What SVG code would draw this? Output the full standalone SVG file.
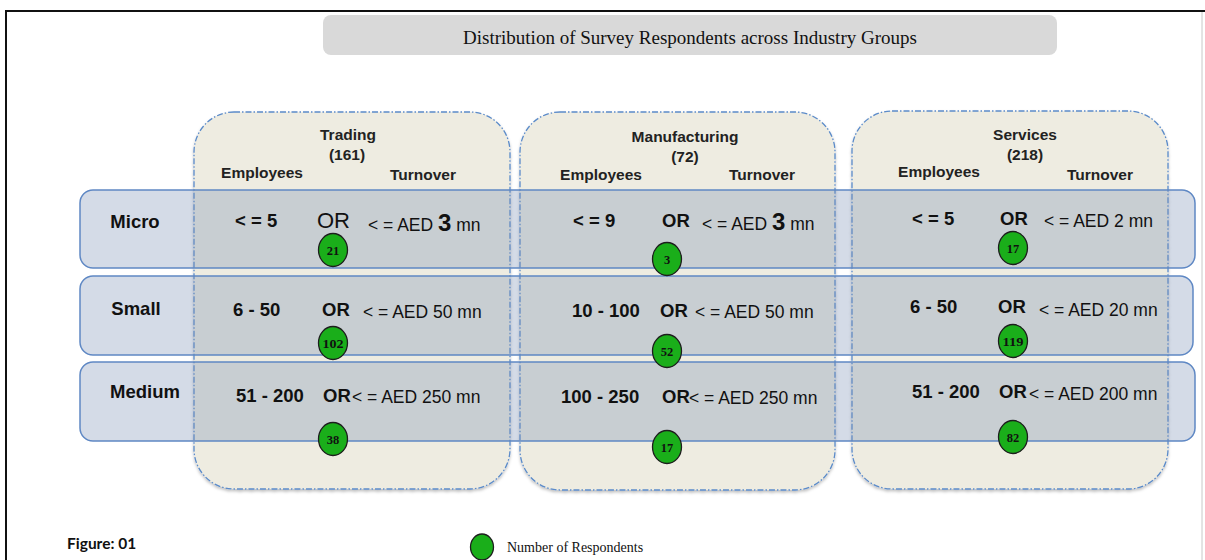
<svg xmlns="http://www.w3.org/2000/svg" width="1205" height="560" viewBox="0 0 1205 560">
  <defs>
    <filter id="soft" x="-5%" y="-5%" width="110%" height="115%">
      <feDropShadow dx="0" dy="2" stdDeviation="1.5" flood-color="#000" flood-opacity="0.25"/>
    </filter>
    <style>
      .col { fill: #eeece1; stroke: #5b8bc9; stroke-width: 1.3; stroke-dasharray: 6 2 1.5 2; }
      .row { fill: #7088b0; fill-opacity: 0.3; stroke: #5f88c4; stroke-width: 1.5; }
      .hdr { font-family: "Liberation Sans", Arial, sans-serif; font-weight: bold; font-size: 15.5px; fill: #222; text-anchor: middle; }
      .lbl { font-family: "Liberation Sans", Arial, sans-serif; font-weight: bold; font-size: 18.5px; fill: #111; }
      .val { font-family: "Liberation Sans", Arial, sans-serif; font-weight: bold; font-size: 18.5px; fill: #111; }
      .or  { font-family: "Liberation Sans", Arial, sans-serif; font-weight: bold; font-size: 18.5px; fill: #111; }
      .aed { font-family: "Liberation Sans", Arial, sans-serif; font-size: 17.5px; fill: #111; }
      .big { font-size: 24px; font-weight: bold; }
      .dot { fill: #1aae1a; stroke: #1e1e1e; stroke-width: 1.3; }
      .num { font-family: "Liberation Serif", "Times New Roman", serif; font-weight: bold; font-size: 12.5px; fill: #111; text-anchor: middle; }
    </style>
  </defs>

  <rect width="1205" height="560" fill="#ffffff"/>

  <!-- page frame -->
  <line x1="5" y1="11" x2="1205" y2="11" stroke="#111" stroke-width="2"/>
  <line x1="6" y1="10" x2="6" y2="560" stroke="#111" stroke-width="2"/>
  <line x1="1202" y1="12" x2="1202" y2="560" stroke="#c8c8c8" stroke-width="1"/>

  <!-- title bar -->
  <g id="title">
    <rect x="323" y="15" width="734" height="40" rx="8" fill="#d9d9d9"/>
    <text x="690" y="44" font-family="Liberation Serif, 'Times New Roman', serif" font-size="19" fill="#111" text-anchor="middle">Distribution of Survey Respondents across Industry Groups</text>
  </g>

  <!-- industry columns -->
  <g id="col-trading">
    <rect class="col" x="194" y="112" width="316" height="377" rx="40" filter="url(#soft)"/>
    <text class="hdr" x="348" y="140">Trading</text>
    <text class="hdr" x="347" y="160">(161)</text>
    <text class="hdr" x="262" y="178">Employees</text>
    <text class="hdr" x="423" y="180">Turnover</text>
  </g>
  <g id="col-manufacturing">
    <rect class="col" x="520" y="112" width="315" height="378" rx="40" filter="url(#soft)"/>
    <text class="hdr" x="685" y="142">Manufacturing</text>
    <text class="hdr" x="685" y="162">(72)</text>
    <text class="hdr" x="601" y="180">Employees</text>
    <text class="hdr" x="762" y="180">Turnover</text>
  </g>
  <g id="col-services">
    <rect class="col" x="852" y="111" width="316" height="378" rx="40" filter="url(#soft)"/>
    <text class="hdr" x="1025" y="140">Services</text>
    <text class="hdr" x="1025" y="160">(218)</text>
    <text class="hdr" x="939" y="177">Employees</text>
    <text class="hdr" x="1100" y="180">Turnover</text>
  </g>

  <!-- size bands -->
  <g id="row-micro">
    <rect class="row" x="80" y="190" width="1115" height="78" rx="13"/>
    <text class="lbl" x="135" y="228" text-anchor="middle">Micro</text>
  </g>
  <g id="row-small">
    <rect class="row" x="80" y="276" width="1113" height="79" rx="13"/>
    <text class="lbl" x="136" y="315" text-anchor="middle">Small</text>
  </g>
  <g id="row-medium">
    <rect class="row" x="80" y="362" width="1115" height="79" rx="13"/>
    <text class="lbl" x="145" y="398" text-anchor="middle">Medium</text>
  </g>

  <!-- criteria: Trading -->
  <g id="trading-criteria">
    <text class="val" x="235" y="227">&lt; = 5</text>
    <text x="317" y="228" font-family="Liberation Sans, Arial, sans-serif" font-size="22" fill="#111">OR</text>
    <text class="aed" x="368" y="231">&lt; = AED <tspan class="big">3</tspan> mn</text>
    <text class="val" x="233" y="316">6 - 50</text>
    <text class="or" x="322" y="316">OR</text>
    <text class="aed" x="363" y="318">&lt; = AED 50 mn</text>
    <text class="val" x="236" y="402">51 - 200</text>
    <text class="or" x="323" y="402">OR</text>
    <text class="aed" x="352" y="403">&lt; = AED 250 mn</text>
  </g>

  <!-- criteria: Manufacturing -->
  <g id="manufacturing-criteria">
    <text class="val" x="573" y="227">&lt; = 9</text>
    <text class="or" x="662" y="227">OR</text>
    <text class="aed" x="702" y="230">&lt; = AED <tspan class="big">3</tspan> mn</text>
    <text class="val" x="572" y="317">10 - 100</text>
    <text class="or" x="660" y="317">OR</text>
    <text class="aed" x="695" y="318">&lt; = AED 50 mn</text>
    <text class="val" x="561" y="403">100 - 250</text>
    <text class="or" x="662" y="403">OR</text>
    <text class="aed" x="689" y="404">&lt; = AED 250 mn</text>
  </g>

  <!-- criteria: Services -->
  <g id="services-criteria">
    <text class="val" x="912" y="225">&lt; = 5</text>
    <text class="or" x="1000" y="225">OR</text>
    <text class="aed" x="1044" y="227">&lt; = AED 2 mn</text>
    <text class="val" x="910" y="313">6 - 50</text>
    <text class="or" x="998" y="313">OR</text>
    <text class="aed" x="1039" y="316">&lt; = AED 20 mn</text>
    <text class="val" x="912" y="398">51 - 200</text>
    <text class="or" x="999" y="398">OR</text>
    <text class="aed" x="1029" y="400">&lt; = AED 200 mn</text>
  </g>

  <!-- respondent counts -->
  <g id="n-trading-micro"><ellipse class="dot" cx="333" cy="250" rx="14.5" ry="16.5"/><text class="num" x="333" y="254.5">21</text></g>
  <g id="n-trading-small"><ellipse class="dot" cx="333" cy="343" rx="14.5" ry="16.5"/><text class="num" x="333" y="347.5" textLength="21" lengthAdjust="spacingAndGlyphs">102</text></g>
  <g id="n-trading-medium"><ellipse class="dot" cx="333" cy="439" rx="14.5" ry="16.5"/><text class="num" x="333" y="443.5">38</text></g>
  <g id="n-manufacturing-micro"><ellipse class="dot" cx="667" cy="259" rx="14.5" ry="16.5"/><text class="num" x="667" y="263.5">3</text></g>
  <g id="n-manufacturing-small"><ellipse class="dot" cx="667" cy="351" rx="14.5" ry="16.5"/><text class="num" x="667" y="355.5">52</text></g>
  <g id="n-manufacturing-medium"><ellipse class="dot" cx="667" cy="447" rx="14.5" ry="16.5"/><text class="num" x="667" y="451.5">17</text></g>
  <g id="n-services-micro"><ellipse class="dot" cx="1013" cy="248" rx="14.5" ry="16.5"/><text class="num" x="1013" y="252.5">17</text></g>
  <g id="n-services-small"><ellipse class="dot" cx="1013" cy="341" rx="14.5" ry="16.5"/><text class="num" x="1013" y="345.5" textLength="21" lengthAdjust="spacingAndGlyphs">119</text></g>
  <g id="n-services-medium"><ellipse class="dot" cx="1013" cy="437" rx="14.5" ry="16.5"/><text class="num" x="1013" y="441.5">82</text></g>

  <!-- legend and caption -->
  <g id="legend">
    <ellipse class="dot" cx="482" cy="547" rx="11.5" ry="13"/>
    <text x="507" y="552" font-family="Liberation Serif, 'Times New Roman', serif" font-size="14" fill="#111">Number of Respondents</text>
  </g>
  <g id="caption">
    <text x="67" y="549" font-family="Lato, 'Liberation Sans', sans-serif" font-weight="bold" font-size="15.5" fill="#111">Figure: 01</text>
  </g>
</svg>
